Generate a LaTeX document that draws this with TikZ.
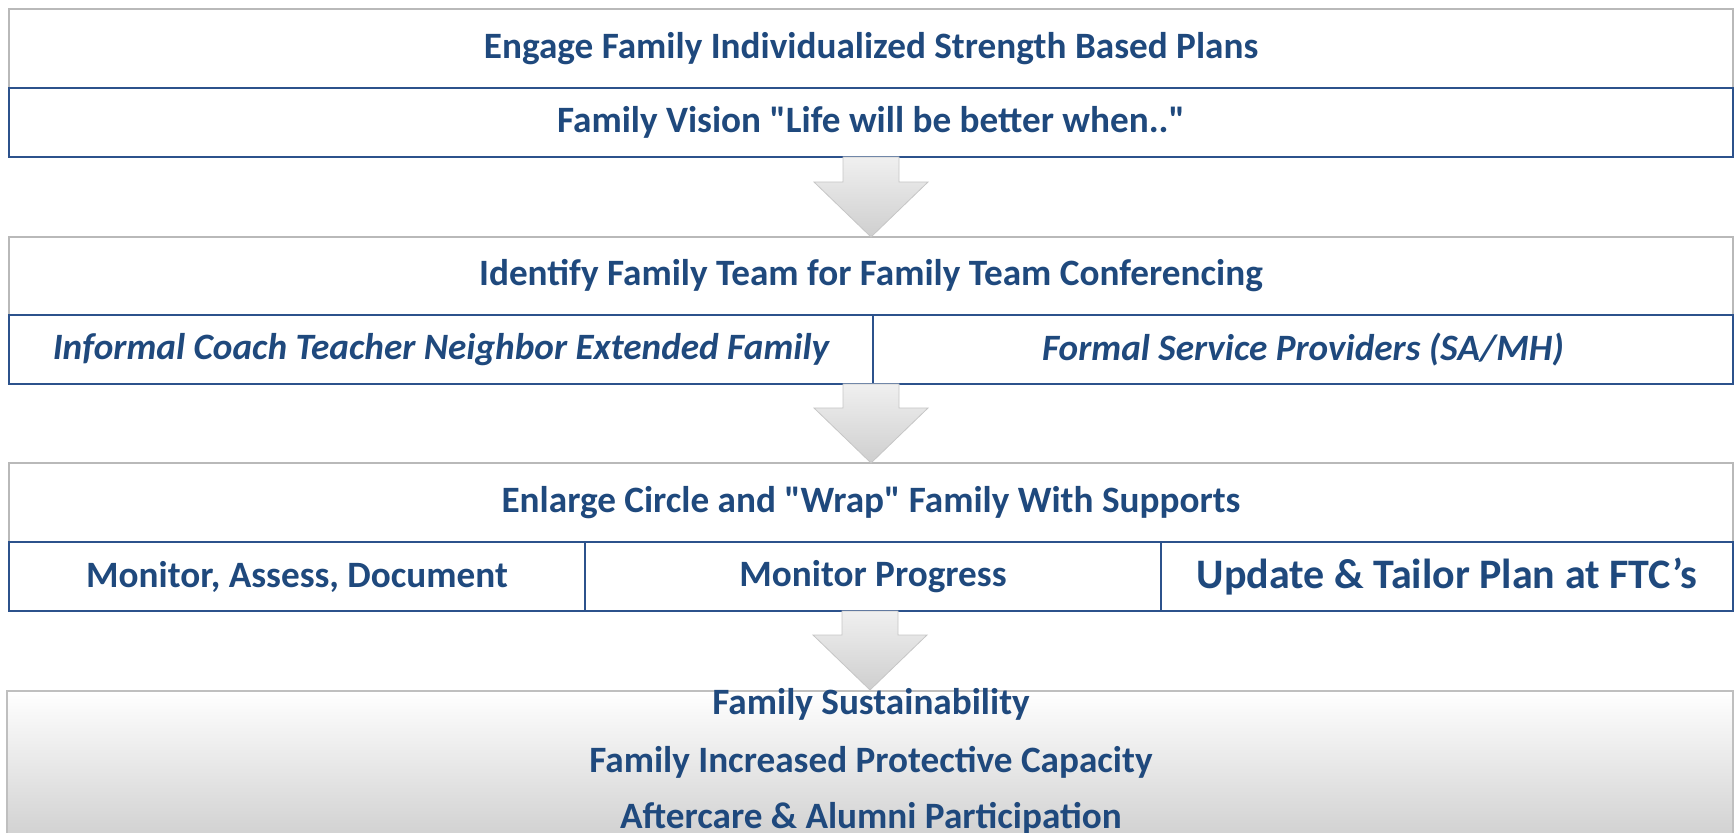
\documentclass[tikz,border=0pt]{standalone}
\usepackage{fontspec}
\setmainfont{Carlito}
\usepackage{tikz}
\usetikzlibrary{positioning,calc}

\definecolor{txtblue}{RGB}{31,73,125}
\definecolor{rowblue}{RGB}{44,82,140}

% block arrow from the bottom of one box to the top of the next
\newcommand{\blockarrow}[2]{%
  \coordinate (atop) at (#2 |- #1);
  \shade[bigarrow] ($(atop)+(-28,0)$) -- ($(atop)+(28,0)$) -- ($(#2)+(28,-55)$)
    -- ($(#2)+(57,-55)$) -- (#2) -- ($(#2)+(-57,-55)$) -- ($(#2)+(-28,-55)$) -- cycle;}

\begin{document}
\begin{tikzpicture}[
        x=0.5pt, y=-0.5pt,
        head/.style = {rectangle, draw=gray!55, fill=white, line width=1pt, minimum width=862pt, minimum height=39.5pt, inner sep=0pt, outer sep=0pt, text=txtblue, font=\bfseries\fontsize{18.6}{20}\selectfont},
        cell/.style = {rectangle, draw=rowblue, fill=white, line width=1.2pt, minimum height=34.5pt, inner sep=0pt, outer sep=0pt, text=txtblue, font=\bfseries\fontsize{18.6}{20}\selectfont},
        outtext/.style = {text=txtblue, inner sep=0pt, font=\bfseries\fontsize{18.6}{20}\selectfont},
        bigarrow/.style = {top color=gray!12, bottom color=gray!38, draw=gray!45, line width=0.4pt}
    ]
        \useasboundingbox (0,0) rectangle (1734,833);

        % Step 1
        \node [head] (head1) at (871,48.5) {Engage Family Individualized Strength Based Plans};
        \node [cell, minimum width=862pt, below=0pt of head1] (vision) {Family Vision \textquotedbl Life will be better when..\textquotedbl};

        % Step 2
        \node [head, minimum height=39pt] (head2) at (871,276) {Identify Family Team for Family Team Conferencing};
        \node [cell, minimum width=432pt, below right=0pt and 0pt of head2.south west] (informal) {\itshape Informal Coach Teacher Neighbor Extended Family};
        \node [cell, minimum width=430pt, right=0pt of informal] (formal) {\itshape Formal Service Providers (SA/MH)};

        % Step 3
        \node [head] (head3) at (871,502.5) {Enlarge Circle and \textquotedbl Wrap\textquotedbl{} Family With Supports};
        \node [cell, minimum width=288pt, below right=0pt and 0pt of head3.south west] (assess) {Monitor, Assess, Document};
        \node [cell, minimum width=288pt, right=0pt of assess] (progress) {Monitor Progress};
        \node [cell, minimum width=286pt, right=0pt of progress, font=\bfseries\fontsize{21}{23}\selectfont] (update) {Update \& Tailor Plan at FTC’s};

        % Outcome
        \node [rectangle, draw=gray!50, line width=1pt, top color=white, middle color=white, bottom color=gray!38, minimum width=863pt, minimum height=77pt, anchor=north, inner sep=0pt] (outcome) at (870,690) {};
        \node [outtext] (sustain) at (871,704) {Family Sustainability};
        \node [outtext] (capacity) at (871,762) {Family Increased Protective Capacity};
        \node [outtext] (aftercare) at (871,818) {Aftercare \& Alumni Participation};

        % Arrows
        \blockarrow{vision.south}{head2.north}
        \blockarrow{informal.south}{head3.north}
        \blockarrow{assess.south}{outcome.north}
    \end{tikzpicture}
\end{document}
